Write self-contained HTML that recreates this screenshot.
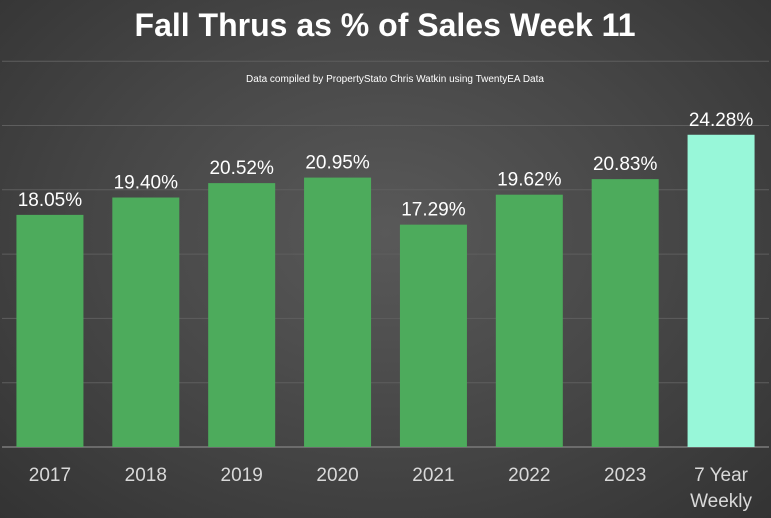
<!DOCTYPE html>
<html><head><meta charset="utf-8"><style>
html,body{margin:0;padding:0;}
body{width:771px;height:518px;overflow:hidden;background:radial-gradient(ellipse at 50% 45%,#595959 0%,#474747 50%,#333 100%);font-family:"Liberation Sans",sans-serif;}
svg{position:absolute;left:0;top:0;}
</style></head><body>
<svg width="771" height="518">
<text x="385" y="36" text-anchor="middle" fill="#fff" font-size="32" font-weight="bold">Fall Thrus as % of Sales Week 11</text>
<text x="395" y="82" text-anchor="middle" fill="#fff" font-size="10">Data compiled by PropertyStato Chris Watkin using TwentyEA Data</text>
<g id="grid"></g>
<g id="bars"></g>
</svg>
<script>
const categories=["2017","2018","2019","2020","2021","2022","2023","7 Year Weekly"];
const values=[18.05,19.40,20.52,20.95,17.29,19.62,20.83,24.28];
const labels=["18.05%","19.40%","20.52%","20.95%","17.29%","19.62%","20.83%","24.28%"];
const ticks=[0,5,10,15,20,25,30];
const NS="http://www.w3.org/2000/svg";
const x0=2,x1=769,base=447,pxPer=12.86;
const band=(x1-x0)/categories.length,bw=67;
const y=v=>base-v*pxPer;
const xc=i=>x0+band*(i+0.5);
const grid=document.getElementById('grid'),bars=document.getElementById('bars');
ticks.forEach(t=>{
 const l=document.createElementNS(NS,'line');
 
 
 l.setAttribute('x1',x0);l.setAttribute('x2',x1);l.setAttribute('y1',y(t));l.setAttribute('y2',y(t));
 l.setAttribute('stroke',t===0?'#7a7a7a':'#5e5e5e');l.setAttribute('stroke-width',t===0?1.5:1);
 grid.appendChild(l);
});
categories.forEach((c,i)=>{
 const r=document.createElementNS(NS,'rect');
 
 
 r.setAttribute('x',xc(i)-bw/2);r.setAttribute('width',bw);
 r.setAttribute('y',y(values[i]));r.setAttribute('height',base-y(values[i]));
 r.setAttribute('fill',i===categories.length-1?'#98f7d9':'#4dab5c');
 bars.appendChild(r);
 const t=document.createElementNS(NS,'text');
 
 
 t.setAttribute('x',xc(i));t.setAttribute('y',y(values[i])-9);
 t.setAttribute('text-anchor','middle');t.setAttribute('fill','#fff');t.setAttribute('font-size','19');
 t.textContent=labels[i];bars.appendChild(t);
 const parts=c==="7 Year Weekly"?["7 Year","Weekly"]:[c];
 parts.forEach((p,j)=>{
  const a=document.createElementNS(NS,'text');
  
  
  a.setAttribute('x',xc(i));a.setAttribute('y',481+j*26);
  a.setAttribute('text-anchor','middle');a.setAttribute('fill','#d9d9d9');a.setAttribute('font-size','19');
  a.textContent=p;bars.appendChild(a);
 });
});
</script>
</body></html>
